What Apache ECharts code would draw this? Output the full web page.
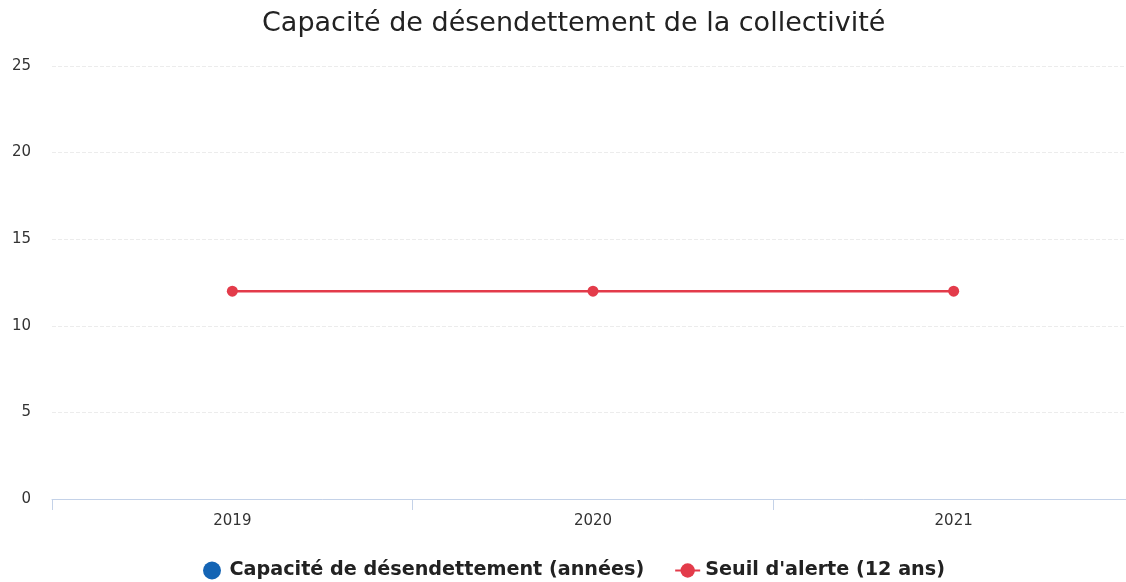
<!DOCTYPE html>
<html>
<head>
<meta charset="utf-8">
<script src="https://cdn.jsdelivr.net/npm/echarts@6/dist/echarts.min.js"></script>
<style>
  html, body { margin: 0; padding: 0; background: #fff; overflow: hidden; }
  /* the plot in the original runs a few px past the right edge */
  #chart { width: 1134px; height: 582px; }
</style>
</head>
<body>
<div id="chart"></div>
<script>
var years = ['2019', '2020', '2021'];
var capacite = [];          // no values shown
var seuil = [12, 12, 12];
var yTicks = [0, 5, 10, 15, 20, 25];

var chart = echarts.init(document.getElementById('chart'));
chart.setOption({
  animation: false,
  title: {
    text: 'Capacité de désendettement de la collectivité',
    left: 257,
    top: 5,
    textStyle: { fontFamily: 'DejaVu Sans', fontSize: 27, fontWeight: 'normal', color: '#222' }
  },
  legend: {
    top: 556,
    left: 198,
    itemGap: 30,
    itemWidth: 25,
    itemHeight: 18,
    textStyle: { fontFamily: 'DejaVu Sans', fontSize: 19.2, fontWeight: 'bold', color: '#222' },
    data: [
      { name: 'Capacité de désendettement (années)', icon: 'circle' },
      { name: "Seuil d'alerte (12 ans)" }
    ]
  },
  grid: { left: 52, right: 0, top: 66, bottom: 83 },
  xAxis: {
    type: 'category',
    data: years,
    boundaryGap: true,
    axisLine: { show: true, lineStyle: { color: '#c4d2e8', width: 1 } },
    axisTick: { show: true, length: 11, alignWithLabel: false, lineStyle: { color: '#c4d2e8' } },
    axisLabel: { margin: 15, fontFamily: 'DejaVu Sans', fontSize: 15, color: '#333' }
  },
  yAxis: {
    type: 'value',
    min: yTicks[0],
    max: yTicks[yTicks.length - 1],
    interval: 5,
    axisLine: { show: false },
    axisTick: { show: false },
    axisLabel: { margin: 21, fontFamily: 'DejaVu Sans', fontSize: 15, color: '#333' },
    splitLine: { show: true, lineStyle: { color: '#ececec', type: 'dashed' } }
  },
  series: [
    {
      name: 'Capacité de désendettement (années)',
      type: 'line',
      data: capacite,
      itemStyle: { color: '#1464b4' }
    },
    {
      name: "Seuil d'alerte (12 ans)",
      type: 'line',
      data: seuil,
      symbol: 'circle',
      symbolSize: 11,
      lineStyle: { width: 2.5, color: '#e33b4a' },
      itemStyle: { color: '#e33b4a' }
    }
  ]
});
</script>
</body>
</html>
